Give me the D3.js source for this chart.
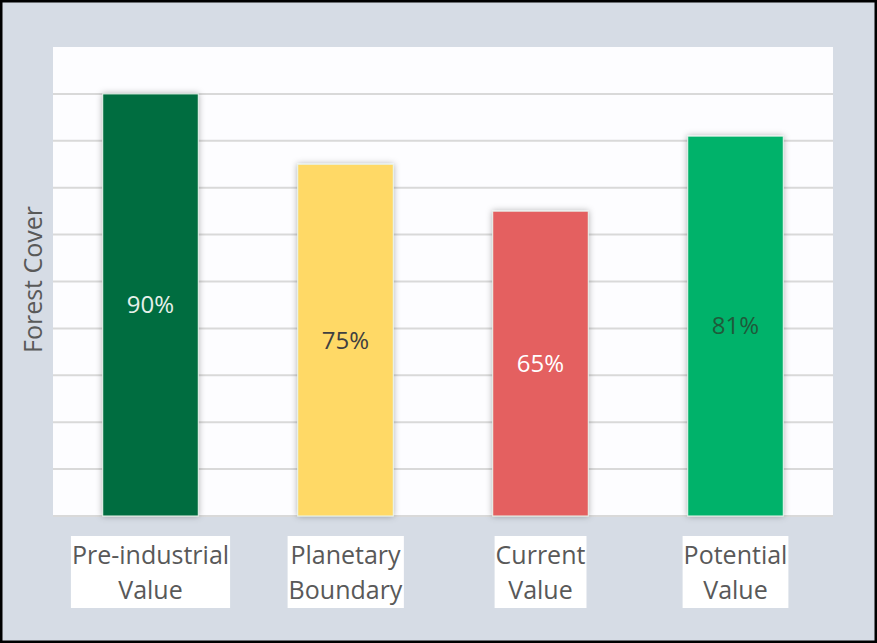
<!DOCTYPE html>
<html>
<head>
<meta charset="utf-8">
<script src="https://cdn.jsdelivr.net/npm/d3@7"></script>
<style>
  html, body { margin: 0; padding: 0; background: #d6dce5; }
  svg { display: block; }
</style>
</head>
<body>
<svg id="chart" width="877" height="643"></svg>
<script>
// chart data
const categories = [["Pre-industrial", "Value"], ["Planetary", "Boundary"], ["Current", "Value"], ["Potential", "Value"]];
const values = [90, 75, 65, 81];
const gridTicks = [0, 10, 20, 30, 40, 50, 60, 70, 80, 90];
const barColors = ["#006d3f", "#ffd966", "#e46060", "#00b26b"];
const labelColors = ["#e6f0ea", "#404040", "#ffffff", "#1f5a3a"];

const svg = d3.select("#chart");
const W = 877, H = 643;
const margin = {top: 47, right: 44, bottom: 127, left: 53};
const width = W - margin.left - margin.right,
    height = H - margin.top - margin.bottom;
const font = "'Open Sans', sans-serif";

// outer frame
svg.append("rect").attr("x", 1).attr("y", 1).attr("width", W - 2).attr("height", H - 2)
    .attr("fill", "#d6dce5").attr("stroke", "#000").attr("stroke-width", 3);

const defs = svg.append("defs");
const f = defs.append("filter").attr("id", "shadow")
    .attr("x", "-20%").attr("y", "-20%").attr("width", "140%").attr("height", "140%");
f.append("feDropShadow").attr("dx", 0).attr("dy", 0).attr("stdDeviation", 3)
    .attr("flood-color", "#000").attr("flood-opacity", 0.3);

const g = svg.append("g").attr("transform", "translate(" + margin.left + "," + margin.top + ")");

g.append("rect").attr("width", width).attr("height", height).attr("fill", "#fdfdff");

const x = d3.scaleBand().domain(d3.range(categories.length)).range([0, width])
    .paddingInner(0.51).paddingOuter(0.255);
const y = d3.scaleLinear().domain([0, 100]).range([height, 0]);

// gridlines
g.append("g").selectAll("line")
    .data(gridTicks)
    .enter().append("line")
    .attr("x1", 0).attr("x2", width)
    .attr("y1", d => y(d)).attr("y2", d => y(d))
    .attr("stroke", "#d9d9d9").attr("stroke-width", 2);

// bars
g.append("g").selectAll("rect")
    .data(values)
    .enter().append("rect")
    .attr("x", (d, i) => x(i))
    .attr("y", d => y(d))
    .attr("width", x.bandwidth())
    .attr("height", d => height - y(d))
    .attr("fill", (d, i) => barColors[i])
    .attr("stroke", "#e8f5ee").attr("stroke-width", 1)
    .attr("filter", "url(#shadow)");

// value labels
g.append("g").selectAll("text")
    .data(values)
    .enter().append("text")
    .attr("x", (d, i) => x(i) + x.bandwidth() / 2)
    .attr("y", d => (y(d) + height) / 2)
    .attr("dy", "0.35em")
    .attr("text-anchor", "middle")
    .attr("font-family", font)
    .attr("font-size", 24)
    .attr("fill", (d, i) => labelColors[i])
    .text(d => d + "%");

// category labels in white boxes
const cat = g.append("g").selectAll("g")
    .data(categories)
    .enter().append("g")
    .attr("transform", (d, i) => "translate(" + (x(i) + x.bandwidth() / 2) + "," + (height + 20) + ")");

cat.each(function(lines) {
    const sel = d3.select(this);
    const box = sel.append("rect").attr("fill", "#ffffff");
    const t = sel.append("text")
        .attr("text-anchor", "middle")
        .attr("font-family", font)
        .attr("font-size", 25)
        .attr("fill", "#595959");
    lines.forEach((line, k) => {
        t.append("tspan").attr("x", 0).attr("y", 28 + k * 35).text(line);
    });
    const bb = t.node().getBBox();
    box.attr("x", bb.x - 1).attr("y", 0).attr("width", bb.width + 2).attr("height", 72);
});

// y axis title
svg.append("text")
    .attr("transform", "translate(42," + (margin.top + height / 2 - 2) + ") rotate(-90)")
    .attr("text-anchor", "middle")
    .attr("font-family", font)
    .attr("font-size", 25)
    .attr("fill", "#595959")
    .text("Forest Cover");
</script>
</body>
</html>
